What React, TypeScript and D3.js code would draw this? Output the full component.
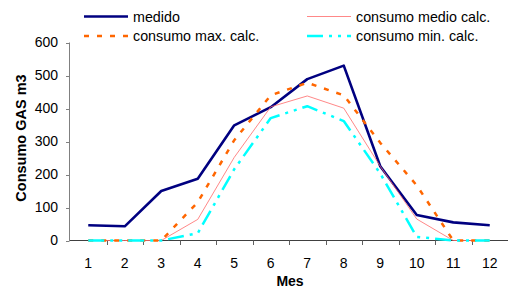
import React from "react";
import * as d3 from "d3";

const months = ["1", "2", "3", "4", "5", "6", "7", "8", "9", "10", "11", "12"];
const medido = [46, 43, 150, 187, 349, 404, 489, 530, 225, 77, 55, 46];
const consumoMedio = [0, 0, 0, 64, 252, 405, 438, 401, 225, 65, 0, 0];
const consumoMax = [0, 0, 0, 116, 304, 440, 478, 440, 296, 167, 0, 0];
const consumoMin = [0, 0, 0, 22, 216, 371, 407, 362, 203, 11, 0, 0];
const yTicks = [0, 100, 200, 300, 400, 500, 600];

const W = 508;
const H = 289;
const FONT = "'Liberation Sans', Arial, sans-serif";

type Series = { name: string; values: number[]; color: string; width: number; dash?: string };

const series: Series[] = [
  { name: "medido", values: medido, color: "#000080", width: 2.6 },
  { name: "consumo medio calc.", values: consumoMedio, color: "#ff6a6a", width: 0.8 },
  { name: "consumo max. calc.", values: consumoMax, color: "#ff6600", width: 2.5, dash: "5,8" },
  { name: "consumo min. calc.", values: consumoMin, color: "#00ffff", width: 2.5, dash: "16,6,3,6,3,6" },
];

export default function App() {
  const x = d3.scaleBand<string>().domain(months).range([70, 508]);
  const y = d3.scaleLinear().domain([0, 600]).range([240.5, 42.5]);
  const bw = x.bandwidth();
  const cx = (m: string) => (x(m) as number) + bw / 2;

  const line = d3
    .line<number>()
    .x((_, i) => cx(months[i]))
    .y((v) => y(v));

  const legendPos = [
    { lx: 84, ly: 16.5 },
    { lx: 307, ly: 16.5 },
    { lx: 84, ly: 36 },
    { lx: 307, ly: 36 },
  ];

  return (
    <svg width={W} height={H} style={{ position: "absolute", left: 0, top: 0, background: "#fff" }}>
      <rect x={0} y={0} width={W} height={H} fill="#fff" />
      {/* y axis */}
      <line x1={69.5} x2={69.5} y1={y(600)} y2={y(0)} stroke="#808080" strokeWidth={1} />
      {yTicks.map((t) => (
        <g key={t}>
          <line x1={66} x2={69.5} y1={Math.round(y(t)) + 0.5} y2={Math.round(y(t)) + 0.5} stroke="#808080" />
          <text x={58} y={y(t)} dy="0.35em" textAnchor="end" fontFamily={FONT} fontSize={14} fill="#000">
            {t}
          </text>
        </g>
      ))}
      {/* x axis */}
      <line x1={69.5} x2={W} y1={240.5} y2={240.5} stroke="#404040" strokeWidth={1} />
      {months.slice(1).map((m) => (
        <line key={m} x1={Math.round(x(m) as number) + 0.5} x2={Math.round(x(m) as number) + 0.5} y1={240.5} y2={245} stroke="#606060" />
      ))}
      {months.map((m) => (
        <text key={m} x={cx(m)} y={263} dy="0.35em" textAnchor="middle" fontFamily={FONT} fontSize={14} fill="#000">
          {m}
        </text>
      ))}
      <text x={290} y={281} dy="0.35em" textAnchor="middle" fontFamily={FONT} fontSize={14} fontWeight="bold">
        Mes
      </text>
      <text
        transform={`translate(21,138) rotate(-90)`}
        textAnchor="middle"
        dy="0.35em"
        fontFamily={FONT}
        fontSize={14.5}
        fontWeight="bold"
      >
        Consumo GAS m3
      </text>
      {/* series */}
      {series.map((s) => (
        <path
          key={s.name}
          d={line(s.values) || ""}
          fill="none"
          stroke={s.color}
          strokeWidth={s.width}
          strokeDasharray={s.dash}
          strokeLinejoin="round"
        />
      ))}
      {/* legend */}
      {series.map((s, i) => {
        const p = legendPos[i];
        return (
          <g key={s.name}>
            <line x1={p.lx} x2={p.lx + 44} y1={p.ly} y2={p.ly} stroke={s.color} strokeWidth={s.width} strokeDasharray={s.dash} />
            <text x={p.lx + 49} y={p.ly} dy="0.35em" fontFamily={FONT} fontSize={14.3} fill="#000">
              {s.name}
            </text>
          </g>
        );
      })}
    </svg>
  );
}
